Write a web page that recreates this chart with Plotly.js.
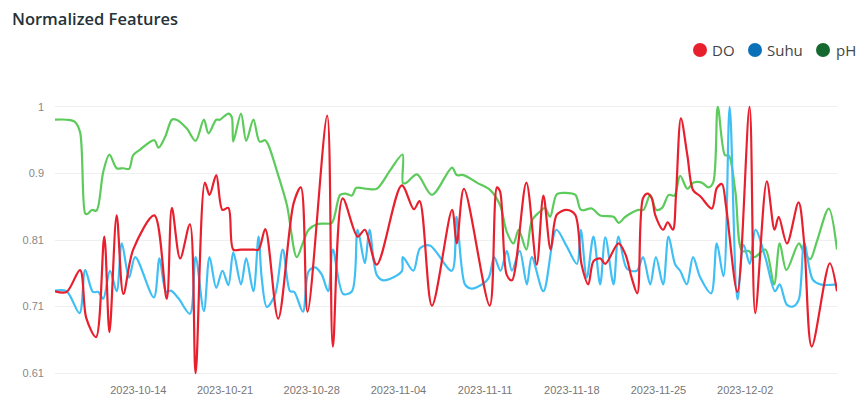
<!DOCTYPE html>
<html>
<head>
<meta charset="utf-8">
<script src="https://cdn.plot.ly/plotly-3.0.1.min.js"></script>
<style>html,body{margin:0;padding:0;background:#fff;}#chart{width:857px;height:400px;}</style>
</head>
<body>
<div id="chart"></div>
<script>
const doDates = ['2023-10-07 06:30','2023-10-08 05:00','2023-10-09 07:00','2023-10-09 19:00','2023-10-10 14:00','2023-10-11 06:00','2023-10-11 16:00','2023-10-12 06:00','2023-10-12 19:00','2023-10-13 14:00','2023-10-15 07:00','2023-10-16 07:00','2023-10-16 17:00','2023-10-17 09:00','2023-10-18 04:00','2023-10-18 15:00','2023-10-19 09:00','2023-10-19 18:00','2023-10-20 07:00','2023-10-20 19:00','2023-10-21 06:30','2023-10-21 16:00','2023-10-22 07:00','2023-10-22 17:00','2023-10-23 07:00','2023-10-23 17:00','2023-10-24 06:00','2023-10-25 07:00','2023-10-26 13:00','2023-10-27 03:00','2023-10-27 16:00','2023-10-29 06:00','2023-10-29 17:00','2023-10-30 12:00','2023-10-31 17:00','2023-11-01 07:00','2023-11-02 06:00','2023-11-04 06:30','2023-11-05 06:00','2023-11-05 17:00','2023-11-06 17:00','2023-11-08 08:00','2023-11-08 17:00','2023-11-09 07:00','2023-11-11 09:00','2023-11-11 23:00','2023-11-12 05:00','2023-11-12 18:00','2023-11-13 04:00','2023-11-14 08:00','2023-11-15 04:00','2023-11-15 17:00','2023-11-16 07:00','2023-11-16 19:00','2023-11-17 14:00','2023-11-18 06:30','2023-11-18 19:00','2023-11-19 08:00','2023-11-19 18:00','2023-11-20 07:00','2023-11-20 17:00','2023-11-21 18:30','2023-11-22 08:00','2023-11-22 20:00','2023-11-23 07:00','2023-11-23 18:00','2023-11-24 03:00','2023-11-24 11:00','2023-11-24 18:00','2023-11-25 09:00','2023-11-25 18:00','2023-11-26 04:00','2023-11-26 10:00','2023-11-26 19:30','2023-11-27 08:00','2023-11-27 19:00','2023-11-28 09:00','2023-11-29 07:30','2023-11-29 17:00','2023-11-30 03:00','2023-11-30 11:00','2023-12-01 09:00','2023-12-02 08:30','2023-12-02 19:30','2023-12-03 18:00','2023-12-04 09:00','2023-12-04 17:00','2023-12-05 09:00','2023-12-06 07:30','2023-12-06 18:30','2023-12-07 09:00','2023-12-08 20:00','2023-12-09 10:00'];
const doValues = [0.730,0.729,0.761,0.691,0.663,0.810,0.670,0.841,0.726,0.791,0.841,0.719,0.852,0.778,0.828,0.610,0.889,0.871,0.900,0.849,0.852,0.791,0.791,0.791,0.791,0.791,0.821,0.690,0.859,0.882,0.700,0.987,0.649,0.866,0.810,0.820,0.769,0.885,0.850,0.862,0.709,0.849,0.800,0.880,0.709,0.882,0.876,0.754,0.746,0.889,0.769,0.870,0.791,0.842,0.849,0.842,0.769,0.740,0.774,0.778,0.770,0.800,0.784,0.750,0.727,0.866,0.873,0.866,0.841,0.820,0.831,0.820,0.871,0.983,0.929,0.878,0.869,0.851,0.881,0.887,0.854,0.729,1.000,0.698,0.891,0.820,0.839,0.800,0.860,0.800,0.649,0.771,0.730];

const suhuDates = ['2023-10-07 06:30','2023-10-08 05:00','2023-10-09 06:00','2023-10-09 17:00','2023-10-10 08:00','2023-10-10 18:30','2023-10-11 04:00','2023-10-11 17:00','2023-10-12 06:00','2023-10-12 16:00','2023-10-13 06:00','2023-10-13 18:00','2023-10-15 06:00','2023-10-15 17:00','2023-10-16 06:00','2023-10-16 15:00','2023-10-17 05:30','2023-10-18 04:00','2023-10-18 15:00','2023-10-19 07:00','2023-10-19 18:00','2023-10-20 07:00','2023-10-20 19:00','2023-10-21 06:30','2023-10-21 16:00','2023-10-22 07:00','2023-10-22 17:00','2023-10-23 07:00','2023-10-23 17:00','2023-10-23 23:00','2023-10-24 09:00','2023-10-25 01:00','2023-10-25 16:00','2023-10-26 06:00','2023-10-26 14:00','2023-10-27 07:00','2023-10-27 18:00','2023-10-28 06:30','2023-10-28 19:00','2023-10-29 08:00','2023-10-29 17:00','2023-10-30 13:00','2023-10-31 06:00','2023-10-31 17:00','2023-11-01 07:00','2023-11-01 16:00','2023-11-02 06:00','2023-11-02 19:00','2023-11-04 06:30','2023-11-04 08:30','2023-11-05 05:00','2023-11-05 18:00','2023-11-06 13:00','2023-11-08 07:30','2023-11-08 16:30','2023-11-09 09:00','2023-11-09 20:00','2023-11-10 08:00','2023-11-11 06:30','2023-11-11 17:30','2023-11-12 06:00','2023-11-12 18:00','2023-11-13 04:00','2023-11-13 19:00','2023-11-14 09:00','2023-11-14 18:30','2023-11-15 17:00','2023-11-16 18:00','2023-11-17 14:00','2023-11-18 10:00','2023-11-18 17:30','2023-11-19 05:00','2023-11-19 18:00','2023-11-20 07:00','2023-11-20 17:00','2023-11-21 09:00','2023-11-21 18:30','2023-11-22 11:00','2023-11-23 06:00','2023-11-23 18:00','2023-11-24 08:00','2023-11-24 19:00','2023-11-25 09:00','2023-11-25 19:30','2023-11-26 08:30','2023-11-26 18:00','2023-11-27 07:00','2023-11-27 19:00','2023-11-28 09:00','2023-11-29 06:00','2023-11-29 17:00','2023-11-30 06:00','2023-11-30 18:00','2023-12-01 09:00','2023-12-01 21:00','2023-12-02 09:00','2023-12-02 20:00','2023-12-03 15:00','2023-12-04 10:00','2023-12-04 19:00','2023-12-05 09:00','2023-12-05 22:00','2023-12-06 08:00','2023-12-06 18:30','2023-12-07 11:00','2023-12-08 02:00','2023-12-09 10:00'];
const suhuValues = [0.731,0.730,0.698,0.761,0.729,0.729,0.719,0.760,0.730,0.800,0.750,0.780,0.721,0.778,0.729,0.731,0.720,0.697,0.780,0.701,0.780,0.735,0.760,0.739,0.787,0.740,0.778,0.730,0.810,0.750,0.707,0.725,0.791,0.730,0.729,0.700,0.759,0.765,0.755,0.730,0.791,0.726,0.730,0.820,0.771,0.820,0.754,0.746,0.759,0.780,0.760,0.793,0.797,0.760,0.839,0.740,0.734,0.736,0.749,0.780,0.760,0.789,0.760,0.789,0.740,0.780,0.730,0.820,0.796,0.770,0.820,0.750,0.810,0.740,0.809,0.740,0.810,0.763,0.760,0.780,0.740,0.780,0.740,0.810,0.769,0.760,0.740,0.780,0.750,0.727,0.800,0.752,1.000,0.718,0.798,0.770,0.820,0.780,0.730,0.740,0.710,0.708,0.718,0.800,0.747,0.740,0.740];

const phDates = ['2023-10-07 06:30','2023-10-08 05:00','2023-10-08 21:00','2023-10-09 07:00','2023-10-09 17:00','2023-10-09 21:00','2023-10-10 06:00','2023-10-10 15:00','2023-10-11 04:00','2023-10-11 16:00','2023-10-12 06:00','2023-10-12 19:00','2023-10-13 06:00','2023-10-13 14:00','2023-10-14 03:00','2023-10-15 07:00','2023-10-15 15:00','2023-10-16 04:00','2023-10-16 17:00','2023-10-17 02:00','2023-10-17 22:00','2023-10-18 15:00','2023-10-19 07:00','2023-10-19 16:00','2023-10-20 07:00','2023-10-20 14:00','2023-10-21 06:30','2023-10-21 13:00','2023-10-21 16:00','2023-10-22 07:00','2023-10-22 17:00','2023-10-23 07:00','2023-10-23 19:00','2023-10-24 06:00','2023-10-24 12:00','2023-10-25 07:00','2023-10-26 00:00','2023-10-26 19:00','2023-10-27 08:00','2023-10-27 18:00','2023-10-28 10:00','2023-10-29 00:00','2023-10-29 15:00','2023-10-30 07:00','2023-10-30 17:00','2023-10-31 06:00','2023-10-31 14:00','2023-11-01 10:00','2023-11-02 06:00','2023-11-03 08:00','2023-11-04 08:00','2023-11-04 09:00','2023-11-04 16:00','2023-11-05 12:00','2023-11-06 17:00','2023-11-08 08:00','2023-11-08 17:00','2023-11-09 06:00','2023-11-10 08:00','2023-11-11 10:00','2023-11-12 05:00','2023-11-12 18:00','2023-11-13 07:00','2023-11-13 17:00','2023-11-14 08:00','2023-11-14 19:00','2023-11-15 11:00','2023-11-15 20:00','2023-11-16 06:00','2023-11-16 19:00','2023-11-17 11:00','2023-11-18 07:00','2023-11-18 18:00','2023-11-19 15:00','2023-11-20 07:00','2023-11-21 09:00','2023-11-21 19:00','2023-11-22 08:00','2023-11-23 09:00','2023-11-23 19:00','2023-11-24 08:00','2023-11-24 20:00','2023-11-25 07:00','2023-11-25 20:00','2023-11-26 07:00','2023-11-26 18:00','2023-11-27 08:00','2023-11-27 20:00','2023-11-28 12:00','2023-11-29 01:00','2023-11-29 10:00','2023-11-29 19:00','2023-11-30 09:00','2023-11-30 16:00','2023-12-01 05:00','2023-12-01 18:00','2023-12-02 07:00','2023-12-02 18:00','2023-12-03 15:00','2023-12-04 08:00','2023-12-04 19:00','2023-12-05 08:00','2023-12-06 08:00','2023-12-06 17:00','2023-12-07 06:00','2023-12-07 19:00','2023-12-08 18:00','2023-12-09 10:00'];
const phValues = [0.981,0.981,0.978,0.963,0.844,0.843,0.849,0.848,0.905,0.930,0.910,0.910,0.909,0.929,0.937,0.951,0.940,0.956,0.981,0.981,0.968,0.950,0.981,0.961,0.981,0.981,0.990,0.985,0.949,0.990,0.950,0.981,0.949,0.951,0.944,0.900,0.856,0.780,0.803,0.820,0.828,0.829,0.830,0.871,0.873,0.870,0.881,0.880,0.880,0.907,0.930,0.888,0.889,0.901,0.871,0.911,0.900,0.900,0.889,0.878,0.856,0.817,0.800,0.820,0.791,0.834,0.847,0.852,0.839,0.872,0.874,0.871,0.849,0.851,0.841,0.839,0.830,0.839,0.849,0.849,0.871,0.849,0.852,0.871,0.870,0.899,0.880,0.889,0.889,0.882,0.889,1.000,0.929,0.929,0.876,0.789,0.789,0.780,0.791,0.740,0.800,0.761,0.800,0.788,0.777,0.803,0.851,0.791];

const seriesNames = ['DO', 'Suhu', 'pH'];
const yTickVals = [0.61, 0.7075, 0.805, 0.9025, 1.0];
const yTickText = ['0.61', '0.71', '0.81', '0.9', '1'];
const xRange = ['2023-10-07 06:30', '2023-12-09 10:00'];

const lineColors = ['#e8202e', '#40bff5', '#5ccb5c'];
const legendColors = ['#e8202e', '#0a70b8', '#15692f'];

// plot-area geometry in pixels (for placing the custom legend in paper coordinates)
const W = 857, H = 400, ML = 55, MR = 20, MT = 104, MB = 24;
const PW = W - ML - MR, PH = H - MT - MB;
const px2x = p => (p - ML) / PW;
const py2y = p => (H - MB - p) / PH;
const legendMarkerPx = [700, 755, 823];
const legendTextPx = [711, 766, 835];
const legendYPx = 50;

function lineTrace(x, y, color, name) {
  return {x: x, y: y, name: name, type: 'scatter', mode: 'lines', showlegend: false, hoverinfo: 'skip',
    line: {color: color, width: 2.2, shape: 'spline', smoothing: 0.9}};
}

const data = [
  lineTrace(phDates, phValues, lineColors[2], seriesNames[2]),
  lineTrace(suhuDates, suhuValues, lineColors[1], seriesNames[1]),
  lineTrace(doDates, doValues, lineColors[0], seriesNames[0])
];

const shapes = seriesNames.map((n, i) => ({
  type: 'circle', xref: 'paper', yref: 'paper', xsizemode: 'pixel', ysizemode: 'pixel',
  xanchor: px2x(legendMarkerPx[i]), yanchor: py2y(legendYPx),
  x0: -7, x1: 7, y0: -7, y1: 7,
  fillcolor: legendColors[i], line: {width: 0}
}));
const annotations = seriesNames.map((n, i) => ({
  text: n, xref: 'paper', yref: 'paper', x: px2x(legendTextPx[i]), y: py2y(legendYPx),
  xanchor: 'left', yanchor: 'middle', showarrow: false, borderpad: 0,
  font: {family: 'Open Sans, sans-serif', size: 15, color: '#444'}
}));

const layout = {
  width: W, height: H,
  margin: {l: ML, r: MR, t: MT, b: MB},
  paper_bgcolor: '#ffffff', plot_bgcolor: '#ffffff',
  title: {text: 'Normalized Features', x: 12/W, xref: 'container', xanchor: 'left',
    y: 1 - 19/H, yref: 'container', yanchor: 'middle',
    font: {family: 'Open Sans, sans-serif', size: 16.5, weight: 600, color: '#263238'}},
  showlegend: false,
  shapes: shapes,
  annotations: annotations,
  xaxis: {type: 'date', range: xRange, showgrid: false, zeroline: false, showline: false,
    ticks: '', tick0: '2023-10-14', dtick: 7*24*3600*1000, tickformat: '%Y-%m-%d',
    tickfont: {family: 'Liberation Sans, Arial, sans-serif', size: 11, color: '#777'}, ticklabelstandoff: 6},
  yaxis: {range: [0.606, 1.004], tickmode: 'array', tickvals: yTickVals, ticktext: yTickText,
    showgrid: true, gridcolor: '#efefef', gridwidth: 1, zeroline: false, showline: false, ticks: '',
    tickfont: {family: 'Liberation Sans, Arial, sans-serif', size: 11, color: '#888'}, ticklabelstandoff: 10},
  hovermode: false
};

Plotly.newPlot('chart', data, layout, {staticPlot: true, displayModeBar: false});
</script>
</body>
</html>
